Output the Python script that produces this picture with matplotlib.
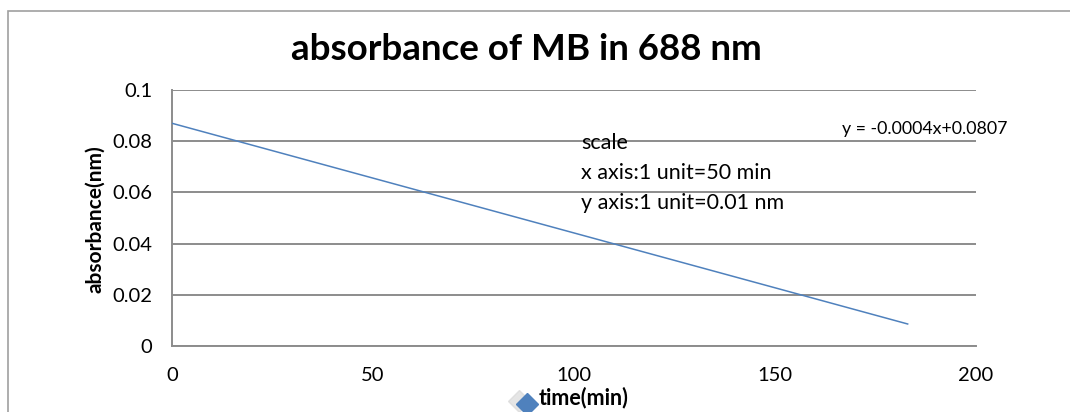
import matplotlib
matplotlib.use("Agg")
import matplotlib.pyplot as plt
from matplotlib.patches import Rectangle
from matplotlib.lines import Line2D

# trend line end points (time in min, absorbance)
time_min = [0, 183]
absorbance = [0.087, 0.0086]

x_ticks = [0, 50, 100, 150, 200]
y_ticks = [0, 0.02, 0.04, 0.06, 0.08, 0.1]
y_ticklabels = ["0", "0.02", "0.04", "0.06", "0.08", "0.1"]

scale_notes = ["scale", "x axis:1 unit=50 min", "y axis:1 unit=0.01 nm"]
equation = "y = -0.0004x+0.0807"

plt.rcParams["font.family"] = ["Lato", "DejaVu Sans"]

fig = plt.figure(figsize=(10.70, 4.12), dpi=100)
fig.patches.append(Rectangle((8 / 1070, -0.05), 1.2, (412 - 11) / 412 + 0.05,
                             transform=fig.transFigure, fill=False,
                             edgecolor="#a0a0a0", linewidth=1.2))

ax = fig.add_axes([172 / 1070, 1 - 346 / 412, 804 / 1070, 256 / 412])
ax.plot(time_min, absorbance, color="#4f81bd", linewidth=1.1, zorder=3)

ax.set_xlim(0, 200)
ax.set_ylim(0, 0.1)
ax.set_xticks(x_ticks)
ax.set_xticklabels([str(t) for t in x_ticks], fontsize=14.5)
ax.set_yticks(y_ticks)
ax.set_yticklabels(y_ticklabels, fontsize=14.5)
ax.tick_params(axis="x", length=0, pad=15)
ax.tick_params(axis="y", length=0, pad=14)
ax.yaxis.grid(True, color="#8c8c8c", linewidth=1.4)
ax.set_axisbelow(True)
for side in ["top", "right"]:
    ax.spines[side].set_visible(False)
for side in ["left", "bottom"]:
    ax.spines[side].set_color("#8c8c8c")
    ax.spines[side].set_linewidth(1.4)

ax.set_ylabel("absorbance(nm)", fontsize=15, fontweight="bold")
ax.yaxis.set_label_coords(-0.083, 0.496)

# legend-like marker with shadow next to x label
fig.add_artist(Line2D([519 / 1070], [1 - 401 / 412], marker="D", markersize=11,
                      color="#d4d4d4", alpha=0.6, transform=fig.transFigure))
fig.add_artist(Line2D([527 / 1070], [1 - 404 / 412], marker="D", markersize=11,
                      color="#4f81bd", transform=fig.transFigure))
fig.text(584 / 1070, 1 - 398 / 412, "time(min)", fontsize=15.5, fontweight="bold",
         ha="center", va="center")

fig.text(526 / 1070, 1 - 50 / 412, "absorbance of MB in 688 nm", fontsize=26.5,
         fontweight="bold", ha="center", va="center")

for i, note in enumerate(scale_notes):
    fig.text(581 / 1070, 1 - (143 + 30 * i) / 412, note, fontsize=15.5,
             ha="left", va="center")
fig.text(925 / 1070, 1 - 129 / 412, equation, fontsize=12.8, ha="center", va="center")

fig.savefig("out.png", dpi=100)
